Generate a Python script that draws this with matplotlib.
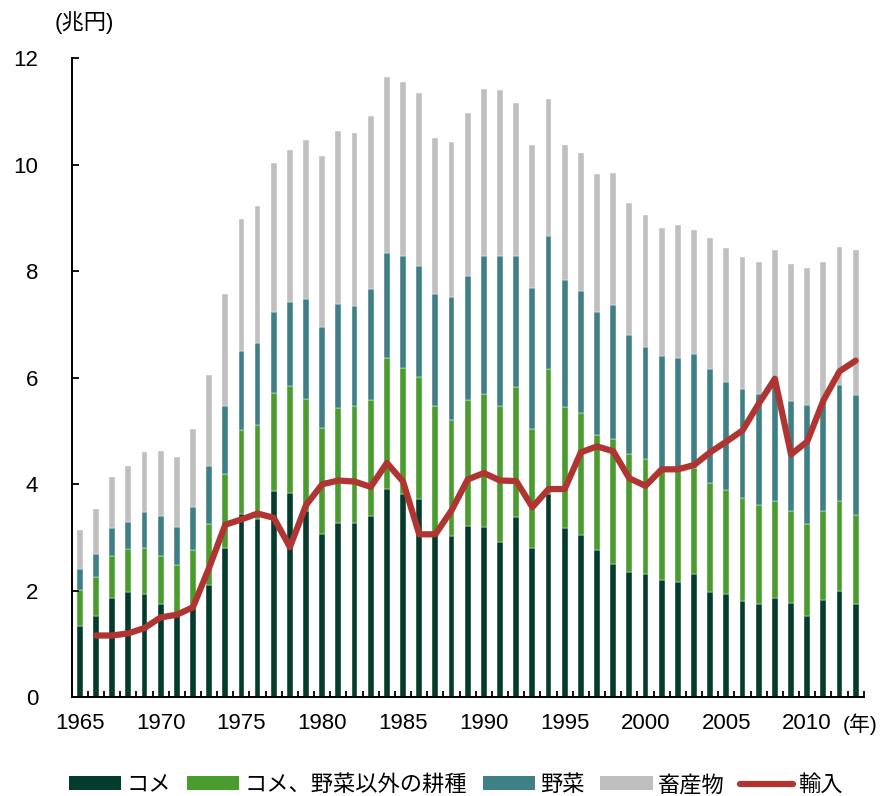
import numpy as np
import matplotlib
matplotlib.use("Agg")
import matplotlib.pyplot as plt
from matplotlib.patches import Patch
from matplotlib.lines import Line2D

plt.rcParams['font.family'] = ['Liberation Sans', 'Noto Sans CJK JP']

years = np.arange(1965, 2014)

# 兆円
rice = [1.34, 1.52, 1.87, 1.98, 1.94, 1.75, 1.52, 1.68, 2.10, 2.80,
        3.45, 3.35, 3.88, 3.83, 3.50, 3.06, 3.28, 3.28, 3.40, 3.91,
        3.81, 3.73, 3.05, 3.02, 3.21, 3.19, 2.91, 3.38, 2.81, 3.81,
        3.17, 3.04, 2.76, 2.50, 2.36, 2.31, 2.21, 2.16, 2.32, 1.97,
        1.93, 1.80, 1.76, 1.87, 1.77, 1.53, 1.83, 2.00, 1.76]
other_crops_top = [2.01, 2.25, 2.65, 2.78, 2.81, 2.66, 2.48, 2.76, 3.26, 4.20,
                   5.02, 5.12, 5.72, 5.84, 5.60, 5.06, 5.43, 5.46, 5.58, 6.37,
                   6.18, 6.02, 5.46, 5.21, 5.58, 5.69, 5.46, 5.83, 5.03, 6.16,
                   5.45, 5.33, 4.92, 4.85, 4.56, 4.47, 4.30, 4.27, 4.30, 4.02,
                   3.89, 3.75, 3.61, 3.69, 3.49, 3.25, 3.49, 3.68, 3.43]
vegetables_top = [2.40, 2.69, 3.17, 3.30, 3.47, 3.41, 3.20, 3.58, 4.34, 5.47,
                  6.50, 6.66, 7.24, 7.43, 7.48, 6.96, 7.39, 7.34, 7.66, 8.34,
                  8.29, 8.10, 7.58, 7.51, 7.91, 8.28, 8.28, 8.29, 7.68, 8.66,
                  7.84, 7.62, 7.23, 7.36, 6.81, 6.58, 6.40, 6.37, 6.44, 6.17,
                  5.92, 5.79, 5.70, 5.95, 5.57, 5.49, 5.55, 5.87, 5.68]
livestock_top = [3.14, 3.53, 4.13, 4.35, 4.61, 4.62, 4.52, 5.03, 6.06, 7.57,
                 8.98, 9.23, 10.04, 10.27, 10.46, 10.17, 10.63, 10.59, 10.92, 11.64,
                 11.55, 11.34, 10.50, 10.43, 10.97, 11.42, 11.41, 11.16, 10.36, 11.23,
                 10.36, 10.22, 9.83, 9.85, 9.28, 9.05, 8.81, 8.86, 8.77, 8.62,
                 8.43, 8.26, 8.18, 8.40, 8.13, 8.06, 8.17, 8.46, 8.40]

import_years = np.arange(1966, 2014)
imports = [1.16, 1.16, 1.20, 1.30, 1.50, 1.55, 1.69, 2.43, 3.24,
           3.34, 3.45, 3.37, 2.82, 3.61, 4.00, 4.07, 4.05, 3.95, 4.40,
           4.05, 3.06, 3.06, 3.51, 4.09, 4.21, 4.07, 4.06, 3.57, 3.91,
           3.91, 4.60, 4.71, 4.62, 4.11, 3.97, 4.28, 4.28, 4.36, 4.60,
           4.80, 5.01, 5.51, 5.98, 4.56, 4.80, 5.57, 6.12, 6.32]

labels = ['コメ', 'コメ、野菜以外の耕種', '野菜', '畜産物', '輸入']
colors = ['#033b2c', '#4a9c2f', '#3f8087', '#bfbfbf', '#b03532']

rice = np.array(rice)
other = np.array(other_crops_top) - rice
veg = np.array(vegetables_top) - np.array(other_crops_top)
live = np.array(livestock_top) - np.array(vegetables_top)

fig = plt.figure(figsize=(8.85, 7.96), dpi=100)
ax = fig.add_axes([0.081, 0.124, 0.895, 0.803])

w = 0.36
bottom = np.zeros(len(years))
for vals, c in zip([rice, other, veg, live], colors[:4]):
    ax.bar(years, vals, w, bottom=bottom, color=c, edgecolor='white', linewidth=0.3)
    bottom = bottom + vals

ax.plot(import_years, imports, color=colors[4], lw=4.5, solid_capstyle='round',
        solid_joinstyle='round', zorder=5)

ax.set_xlim(1964.5, 2013.5)
ax.set_ylim(0, 12)
ax.set_yticks(np.arange(0, 13, 2))
ax.set_xticks(np.arange(1965, 2011, 5))
ax.set_xticks(np.arange(1964.5, 2014, 1), minor=True)
ax.tick_params(axis='x', which='major', length=0, pad=11, labelsize=16)
ax.tick_params(axis='x', which='minor', direction='in', length=4, width=1.3)
ax.tick_params(axis='y', direction='in', length=5, width=1.3, pad=24, labelsize=16)

for s in ['top', 'right']:
    ax.spines[s].set_visible(False)
for s in ['left', 'bottom']:
    ax.spines[s].set_linewidth(1.4)

ax.text(2012.2, -0.51, '(年)', ha='left', va='center', fontsize=15)
fig.text(0.062, 0.972, '(兆円)', ha='left', va='center', fontsize=16)

handles = [Patch(facecolor=c) for c in colors[:4]]
handles.append(Line2D([0], [0], color=colors[4], lw=4.5, solid_capstyle='round'))
fig.legend(handles, labels, loc='center', bbox_to_anchor=(0.515, 0.013), ncol=5,
           frameon=False, fontsize=16, handlelength=2.35, handleheight=0.6,
           handletextpad=0.25, columnspacing=0.7, borderpad=0)

fig.savefig('out.png', dpi=100)
